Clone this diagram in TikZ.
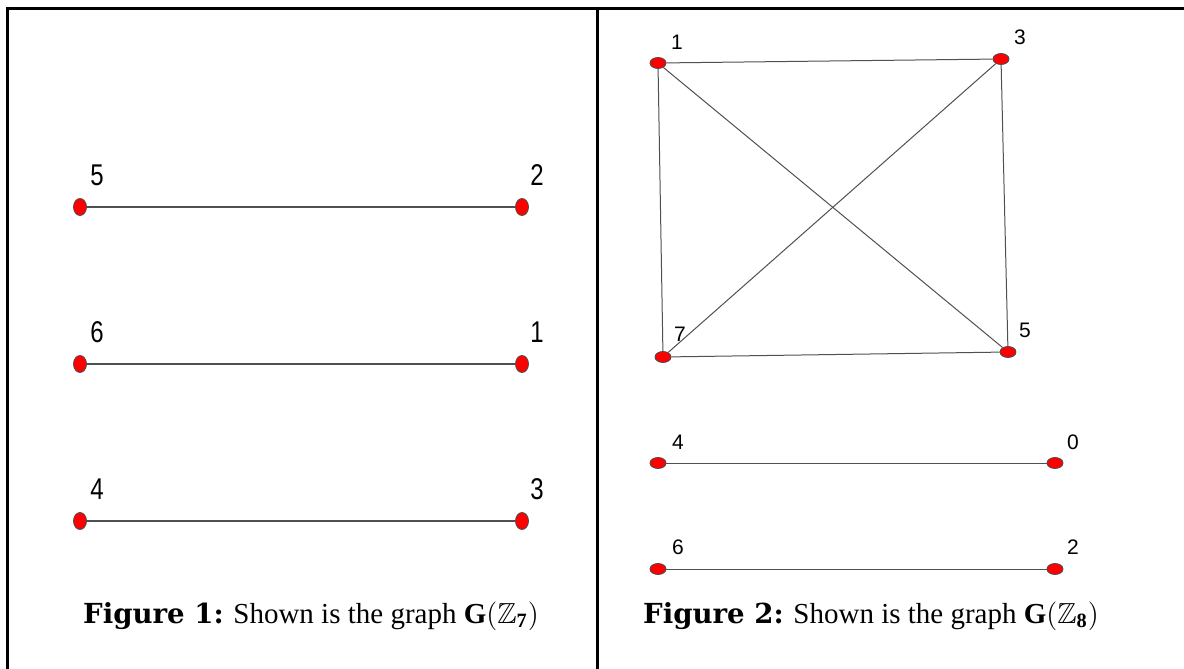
\documentclass[tikz,border=0pt]{standalone}
\usepackage{amsmath,amssymb}
\usepackage{fontspec}
\setmainfont{Liberation Serif}
\newfontfamily\labfont{Liberation Sans}
\newfontfamily\capfont{DejaVu Serif}
\usetikzlibrary{shapes.geometric}
\definecolor{DotRed}{HTML}{FF0000}
\definecolor{EdgeGray}{HTML}{505050}

\begin{document}
\begin{tikzpicture}[x=0.5pt, y=-0.5pt,
    dotA/.style={ellipse, draw=black!70, line width=0.4pt, fill=DotRed, inner sep=0pt, minimum width=6.5pt, minimum height=8.5pt},
    dotB/.style={ellipse, draw=black!70, line width=0.4pt, fill=DotRed, inner sep=0pt, minimum width=8pt, minimum height=5.5pt},
    edgeA/.style={draw=EdgeGray, line width=0.9pt},
    edgeB/.style={draw=EdgeGray, line width=0.5pt},
    labA/.style={inner sep=0pt, font=\labfont\fontsize{15}{15}\selectfont, xscale=0.8},
    labB/.style={inner sep=0pt, font=\labfont\fontsize{10.5}{10.5}\selectfont},
    caption/.style={anchor=base, inner sep=0pt, font=\fontsize{14.5}{16}\selectfont}]
    \useasboundingbox (0,0) rectangle (1184,669);
    % frame
    \draw[line width=1.5pt] (7,669) -- (7,8) -- (1184,8);
    \draw[line width=1.5pt] (597,8) -- (597,669);

    % figure 1
    \node[dotA] (a5) at (80,207) {};
    \node[dotA] (a2) at (522,207) {};
    \node[dotA] (a6) at (80,364) {};
    \node[dotA] (a1) at (522,364) {};
    \node[dotA] (a4) at (80,521) {};
    \node[dotA] (a3) at (522,521) {};
    \node[labA] (la5) at (97,175) {5};
    \node[labA] (la2) at (537,175) {2};
    \node[labA] (la6) at (97,332) {6};
    \node[labA] (la1) at (537,332) {1};
    \node[labA] (la4) at (97,489) {4};
    \node[labA] (la3) at (537,489) {3};
    \draw[edgeA] (a5) -- (a2);
    \draw[edgeA] (a6) -- (a1);
    \draw[edgeA] (a4) -- (a3);

    % figure 2
    \node[dotB] (b1) at (658,63) {};
    \node[dotB] (b3) at (1001,59) {};
    \node[dotB] (b7) at (663,357) {};
    \node[dotB] (b5) at (1008,352) {};
    \node[dotB] (b4) at (658,463) {};
    \node[dotB] (b0) at (1055,463) {};
    \node[dotB] (b6) at (658,569) {};
    \node[dotB] (b2) at (1055,569) {};
    \node[labB] (lb1) at (677,42) {1};
    \node[labB] (lb3) at (1020,37) {3};
    \node[labB] (lb7) at (680,334) {7};
    \node[labB] (lb5) at (1025,330) {5};
    \node[labB] (lb4) at (678,442) {4};
    \node[labB] (lb0) at (1073,442) {0};
    \node[labB] (lb6) at (678,547) {6};
    \node[labB] (lb2) at (1073,547) {2};
    \draw[edgeB] (b1) -- (b3);
    \draw[edgeB] (b3) -- (b5);
    \draw[edgeB] (b5) -- (b7);
    \draw[edgeB] (b7) -- (b1);
    \draw[edgeB] (b1) -- (b5);
    \draw[edgeB] (b3) -- (b7);
    \draw[edgeB] (b4) -- (b0);
    \draw[edgeB] (b6) -- (b2);

    % captions
    \node[caption] (cap1) at (311,623) {{\capfont\bfseries\fontsize{13.8}{16}\selectfont Figure 1:} Shown is the graph $\mathbf{G}(\mathbb{Z}_{\mathbf{7}})$};
    \node[caption] (cap2) at (871,623) {{\capfont\bfseries\fontsize{13.8}{16}\selectfont Figure 2:} Shown is the graph $\mathbf{G}(\mathbb{Z}_{\mathbf{8}})$};
\end{tikzpicture}
\end{document}
